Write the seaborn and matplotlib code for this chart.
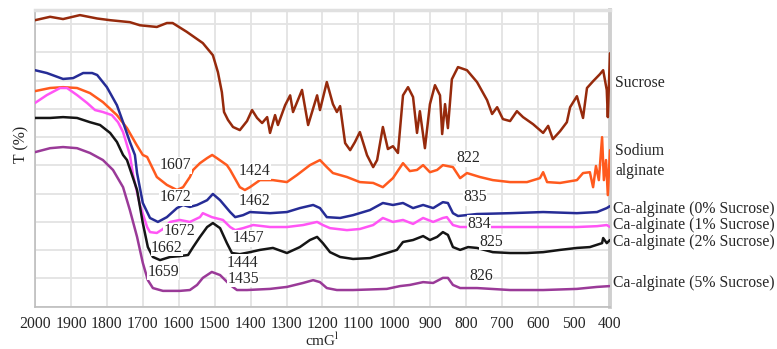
import matplotlib
matplotlib.use("Agg")
import matplotlib.pyplot as plt
import pandas as pd
import seaborn as sns

# FTIR spectra: wavenumber (cm-1) and stacked transmittance (arbitrary offset units)
sucrose_wn = [2000, 1958, 1922, 1875, 1827, 1791, 1736, 1708, 1661, 1633, 1617, 1578, 1533, 1505,
              1491, 1480, 1474, 1463, 1449, 1430, 1410, 1396, 1382, 1368, 1354, 1346, 1332, 1324,
              1304, 1290, 1282, 1257, 1240, 1215, 1207, 1188, 1171, 1160, 1151, 1137, 1123, 1110,
              1096, 1076, 1059, 1048, 1032, 1018, 1004, 990, 976, 962, 948, 937, 929, 915, 901,
              887, 873, 867, 859, 851, 840, 823, 798, 770, 742, 728, 714, 698, 678, 659, 642, 614,
              586, 572, 559, 539, 520, 511, 492, 475, 464, 447, 428, 419, 409, 406, 400]
sucrose_t = [101.4, 102.6, 101.8, 103.2, 102.0, 101.4, 100.7, 99.6, 99.0, 100.4, 100.4, 97.3, 93.3,
             89.0, 83.0, 75.9, 68.9, 66.1, 63.6, 62.5, 65.7, 69.6, 66.8, 65.0, 67.1, 61.5, 67.8,
             64.3, 71.3, 74.8, 68.9, 76.7, 64.3, 74.8, 69.6, 79.5, 71.7, 68.9, 71.0, 57.9, 55.4,
             58.2, 61.8, 53.6, 49.4, 51.9, 63.6, 55.8, 56.8, 54.4, 74.8, 77.7, 74.2, 61.5, 69.2,
             56.1, 71.7, 78.4, 74.8, 61.1, 71.7, 63.2, 80.5, 84.8, 83.7, 79.5, 73.1, 68.2, 70.6,
             66.4, 65.7, 69.2, 67.1, 64.6, 61.5, 64.0, 59.3, 62.1, 65.3, 70.6, 74.5, 66.8, 77.4,
             79.8, 82.3, 83.7, 76.7, 67.1, 89.7]

na_alg_wn = [2000, 1958, 1922, 1883, 1847, 1811, 1772, 1744, 1717, 1700, 1688, 1661, 1633, 1605,
             1588, 1569, 1560, 1541, 1521, 1507, 1494, 1466, 1457, 1430, 1416, 1402, 1374, 1338,
             1299, 1271, 1235, 1207, 1188, 1171, 1132, 1096, 1059, 1032, 1004, 976, 957, 937, 920,
             901, 881, 865, 837, 817, 798, 762, 726, 678, 631, 595, 586, 575, 539, 492, 475, 456,
             447, 439, 431, 422, 417, 411, 406, 400]
na_alg_t = [76.3, 77.4, 77.7, 77.4, 75.6, 72.4, 67.8, 63.2, 57.2, 53.7, 53.0, 45.9, 43.1, 41.3,
            42.3, 45.9, 48.4, 50.8, 52.6, 53.7, 52.6, 50.1, 48.4, 42.3, 41.3, 42.3, 44.8, 44.8,
            44.1, 46.6, 50.1, 51.9, 49.4, 47.3, 45.9, 44.1, 43.8, 42.3, 45.5, 50.8, 48.0, 48.4,
            50.1, 47.6, 48.4, 50.1, 49.4, 45.5, 47.3, 45.9, 44.8, 44.1, 44.1, 45.5, 47.6, 44.1,
            43.8, 44.8, 47.3, 47.6, 42.3, 49.8, 44.8, 60.0, 44.8, 51.9, 39.5, 55.4]

ca0_wn = [2000, 1967, 1922, 1894, 1866, 1841, 1827, 1800, 1772, 1755, 1736, 1722, 1716, 1700, 1680,
          1658, 1633, 1605, 1588, 1569, 1549, 1521, 1505, 1485, 1457, 1443, 1421, 1402, 1346, 1299,
          1263, 1226, 1207, 1188, 1151, 1115, 1068, 1032, 1004, 976, 948, 920, 892, 865, 851, 837,
          823, 770, 678, 586, 492, 436, 409, 400]
ca0_t = [83.7, 82.7, 80.6, 80.9, 82.7, 82.7, 82.0, 77.7, 71.3, 65.3, 58.3, 53.7, 47.3, 36.7, 31.4,
         30.0, 31.7, 34.9, 36.0, 35.3, 36.0, 37.7, 39.9, 37.7, 33.5, 31.7, 32.4, 33.5, 33.1, 33.5,
         34.9, 36.0, 34.9, 31.7, 31.4, 32.4, 34.2, 36.7, 36.0, 36.7, 34.9, 36.0, 34.9, 37.0, 36.7,
         33.1, 32.1, 32.8, 33.1, 33.5, 33.1, 33.5, 34.9, 35.6]

ca1_wn = [2000, 1967, 1930, 1911, 1883, 1855, 1833, 1811, 1786, 1769, 1755, 1744, 1736, 1727, 1708,
          1688, 1680, 1661, 1644, 1624, 1597, 1569, 1541, 1533, 1508, 1477, 1457, 1443, 1421, 1393,
          1346, 1299, 1254, 1215, 1199, 1179, 1132, 1096, 1059, 1032, 1004, 976, 948, 920, 892, 865,
          854, 837, 817, 770, 678, 586, 492, 436, 409, 400]
ca1_t = [72.1, 74.9, 77.4, 77.4, 74.9, 72.1, 69.6, 68.9, 67.8, 65.3, 61.8, 57.2, 53.7, 46.6, 36.0,
         28.2, 26.4, 26.1, 27.5, 30.0, 30.7, 30.0, 31.7, 33.1, 31.7, 30.7, 28.2, 27.1, 27.8, 28.9,
         28.2, 28.2, 28.9, 30.0, 28.9, 27.8, 27.1, 27.5, 28.9, 31.4, 30.0, 30.7, 29.3, 31.4, 30.0,
         31.4, 31.7, 28.9, 28.2, 28.2, 28.2, 28.2, 28.2, 28.5, 28.9, 28.2]

ca2_wn = [2000, 1958, 1922, 1883, 1847, 1819, 1791, 1772, 1755, 1744, 1716, 1700, 1686, 1672, 1652,
          1624, 1597, 1574, 1560, 1541, 1521, 1505, 1485, 1466, 1452, 1430, 1402, 1374, 1338, 1299,
          1263, 1235, 1215, 1199, 1179, 1151, 1115, 1068, 1021, 993, 976, 948, 920, 901, 881, 865,
          851, 837, 817, 795, 770, 726, 678, 631, 586, 539, 492, 456, 422, 419, 409, 400]
ca2_t = [66.8, 66.8, 67.1, 66.8, 65.3, 64.3, 61.5, 58.3, 53.7, 51.9, 41.3, 29.6, 21.1, 17.6, 16.5,
         17.6, 17.9, 18.3, 21.1, 24.7, 28.2, 29.6, 27.8, 22.5, 19.0, 18.6, 19.3, 20.1, 20.8, 19.0,
         21.1, 23.6, 24.7, 22.5, 19.3, 17.6, 16.9, 17.2, 19.0, 20.1, 22.9, 23.6, 25.0, 23.6, 24.7,
         26.4, 25.4, 21.1, 20.1, 21.1, 20.8, 19.3, 19.0, 19.0, 19.3, 20.1, 20.8, 21.1, 22.5, 24.3,
         22.5, 23.6]

ca5_wn = [2000, 1958, 1922, 1883, 1847, 1811, 1783, 1755, 1736, 1716, 1700, 1686, 1672, 1644, 1597,
          1569, 1549, 1533, 1508, 1485, 1457, 1438, 1410, 1346, 1299, 1254, 1226, 1207, 1188, 1160,
          1115, 1021, 984, 957, 920, 892, 865, 851, 837, 817, 770, 678, 586, 492, 436, 400]
ca5_t = [54.7, 56.1, 56.5, 56.1, 54.4, 51.9, 48.4, 42.3, 34.2, 24.7, 15.5, 9.4, 6.6, 5.6, 5.6, 5.9,
         7.7, 10.2, 12.3, 11.2, 7.7, 5.9, 5.9, 6.3, 7.0, 8.4, 9.4, 8.7, 6.6, 5.9, 5.9, 6.3, 7.3,
         7.7, 8.7, 8.4, 10.2, 10.2, 7.7, 6.6, 6.6, 5.9, 5.9, 6.3, 7.0, 7.3]

series_names = ["Sucrose", "Sodium alginate", "Ca-alginate (0% Sucrose)",
                "Ca-alginate (1% Sucrose)", "Ca-alginate (2% Sucrose)",
                "Ca-alginate (5% Sucrose)"]
series_colors = ["#962a0c", "#ff5a1e", "#262c96", "#ff55f5", "#151515", "#9a3a98"]

# Peak annotations: text, wavenumber, y position
peak_labels = ["1607", "1424", "822", "1672", "1462", "835", "1672", "1457", "834",
               "1662", "1444", "825", "1659", "1435", "826"]
peak_wn = [1608, 1388, 795, 1610, 1388, 776, 1599, 1405, 765, 1633, 1424, 731, 1644, 1421, 759]
peak_y = [50.1, 48.0, 52.6, 38.8, 37.4, 38.8, 26.8, 24.3, 29.3, 20.8, 15.5, 22.9, 12.3, 9.8, 10.9]

# Series names at the right edge: text, y position
side_labels = ["Sucrose", "Sodium", "alginate", "Ca-alginate (0% Sucrose)",
               "Ca-alginate (1% Sucrose)", "Ca-alginate (2% Sucrose)", "Ca-alginate (5% Sucrose)"]
side_y = [79.1, 55.1, 48.0, 34.6, 28.9, 22.9, 8.4]

xticks = list(range(400, 2001, 100))

frames = []
for name, wn, t in zip(series_names,
                       [sucrose_wn, na_alg_wn, ca0_wn, ca1_wn, ca2_wn, ca5_wn],
                       [sucrose_t, na_alg_t, ca0_t, ca1_t, ca2_t, ca5_t]):
    frames.append(pd.DataFrame({"wavenumber": wn, "T": t, "sample": name}))
df = pd.concat(frames, ignore_index=True)

sns.set_style("white")
plt.rcParams["font.family"] = ["Liberation Serif", "DejaVu Serif"]
plt.rcParams["mathtext.fontset"] = "stix"

fig = plt.figure(figsize=(7.77, 3.49), dpi=100)
ax = fig.add_axes([0.04505, 0.1212, 0.7400, 0.8501])

sns.lineplot(data=df, x="wavenumber", y="T", hue="sample", hue_order=series_names,
             palette=series_colors, sort=False, estimator=None, linewidth=1.8,
             legend=False, ax=ax, zorder=3)

ax.set_xlim(2000, 400)
ax.set_ylim(0, 105)
ax.set_xticks(xticks)
ax.set_xticklabels([str(v) for v in xticks], fontsize=11.3)
ax.set_yticks(range(0, 101, 10))
ax.tick_params(axis="y", left=False, labelleft=False)
ax.tick_params(axis="x", length=4, width=1, color="#c8c8c8", pad=3)
ax.grid(True, color="#e3e3e3", linewidth=1.3)
ax.set_axisbelow(True)
ax.set_xlabel("")
ax.set_ylabel("")
for side in ["left", "bottom"]:
    ax.spines[side].set_color("#bdbdbd")
    ax.spines[side].set_linewidth(1.2)
ax.spines["top"].set_color("#e0e0e0")
ax.spines["top"].set_linewidth(2.5)
ax.spines["right"].set_color("#cfcfcf")
ax.spines["right"].set_linewidth(2.8)

for txt, x, y in zip(peak_labels, peak_wn, peak_y):
    ax.text(x, y, txt, fontsize=11.3, ha="center", va="center", zorder=5,
            bbox=dict(facecolor="white", edgecolor="none", pad=0.3))

ytrans = ax.get_yaxis_transform()
for txt, y in zip(side_labels, side_y):
    xpos = 1.009 if txt in ("Sucrose", "Sodium", "alginate") else 1.005
    ax.text(xpos, y, txt, transform=ytrans, fontsize=11.3, ha="left", va="center",
            clip_on=False)

fig.text(21 / 777, 1 - 144 / 349, "T (%)", rotation=90, fontsize=11.3,
         ha="center", va="center")
fig.text(322 / 777, 1 - 340 / 349, r"cmG$^{\mathrm{l}}$", fontsize=11,
         ha="center", va="center")

fig.savefig("out.png", dpi=100)
